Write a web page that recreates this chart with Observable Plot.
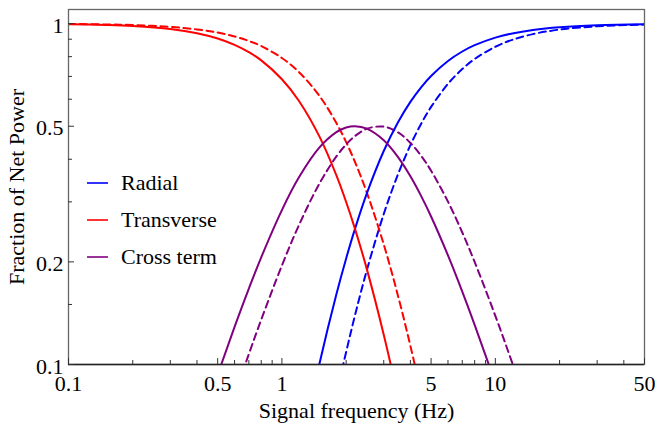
<!DOCTYPE html>
<html>
<head>
<meta charset="utf-8">
<script src="https://cdn.jsdelivr.net/npm/d3@7"></script>
<script src="https://cdn.jsdelivr.net/npm/@observablehq/plot@0.6"></script>
<style>
  html, body { margin: 0; padding: 0; background: white; }
  #wrap { position: relative; width: 658px; height: 428px; font-family: "Liberation Serif", serif; }
  .leg { position: absolute; left: 87px; font-size: 22px; display: flex; align-items: center; height: 24px; color: black; }
  .leg svg { margin-right: 13px; }
</style>
</head>
<body>
<div id="wrap"></div>
<script>
// Frequencies (Hz)
const freq = [0.1, 0.15, 0.2, 0.3, 0.4, 0.5, 0.6, 0.7, 0.8, 1, 1.2, 1.5, 1.8, 2, 2.2, 2.5, 3, 3.5, 4, 4.5, 5, 6, 7, 8, 10, 12, 15, 20, 30, 50];

// Solid curves
const radialSolid = [0.000004, 0.00002, 0.00007, 0.00033, 0.00102, 0.00241, 0.00479, 0.00845, 0.01364, 0.02932, 0.05258, 0.10071, 0.16079, 0.20475, 0.25, 0.31761, 0.42288, 0.51382, 0.58946, 0.65142, 0.70196, 0.77703, 0.82829, 0.86433, 0.90981, 0.93600, 0.95835, 0.97623, 0.98933, 0.99614];
const transSolid = [0.99588, 0.99077, 0.98367, 0.96382, 0.93702, 0.90418, 0.86633, 0.82458, 0.78006, 0.68685, 0.59398, 0.46601, 0.35881, 0.29977, 0.25, 0.19047, 0.12230, 0.08021, 0.05394, 0.03721, 0.02631, 0.01405, 0.00808, 0.00494, 0.00213, 0.00106, 0.00044, 0.00014, 0.00003, 0.000004];
const crossSolid = [0.00412, 0.00921, 0.01626, 0.03585, 0.06195, 0.09341, 0.12888, 0.16696, 0.20630, 0.28382, 0.35345, 0.43328, 0.48040, 0.49549, 0.5, 0.49192, 0.45483, 0.40602, 0.35663, 0.31139, 0.27180, 0.20893, 0.16363, 0.13073, 0.08807, 0.06292, 0.04123, 0.02363, 0.01064, 0.00386];

// Dashed curves
const radialDashed = [0.0000015, 0.0000076, 0.000024, 0.00012, 0.00037, 0.00089, 0.00180, 0.00324, 0.00533, 0.01202, 0.02268, 0.04705, 0.08131, 0.10888, 0.13942, 0.18910, 0.27628, 0.36156, 0.43991, 0.50941, 0.56969, 0.66571, 0.73582, 0.78742, 0.85540, 0.89605, 0.93154, 0.96061, 0.98219, 0.99353];
const transDashed = [0.99754, 0.99448, 0.99022, 0.97820, 0.96174, 0.94117, 0.91692, 0.88945, 0.85926, 0.79278, 0.72150, 0.61321, 0.51101, 0.44895, 0.39265, 0.31939, 0.22503, 0.15896, 0.11337, 0.08196, 0.06014, 0.03389, 0.02022, 0.01268, 0.00564, 0.00285, 0.00121, 0.00040, 0.00008, 0.00001];
const crossDashed = [0.00246, 0.00551, 0.00975, 0.02168, 0.03789, 0.05794, 0.08128, 0.10731, 0.13541, 0.19521, 0.25582, 0.33973, 0.40768, 0.44218, 0.46794, 0.49152, 0.49868, 0.47947, 0.44664, 0.40866, 0.37018, 0.30040, 0.24395, 0.19987, 0.13896, 0.10109, 0.06726, 0.03901, 0.01773, 0.00646];

const components = ["Radial", "Transverse", "Cross term"];
const colors = ["#0000ff", "#ff0000", "#800080"];

const xTicks = [0.1, 0.5, 1, 5, 10, 50];
const xMinor = [0.2, 0.3, 0.4, 0.6, 0.7, 0.8, 0.9, 2, 3, 4, 6, 7, 8, 9, 20, 30, 40];
const yTicks = [0.1, 0.2, 0.5, 1];
const yMinor = [0.15, 0.3, 0.4, 0.6, 0.7, 0.8, 0.9];
const xLabel = "Signal frequency (Hz)";
const yLabel = "Fraction of Net Power";

function rows(arrs) {
  const out = [];
  arrs.forEach((arr, k) => arr.forEach((v, i) => { if (v >= 0.02) out.push({f: freq[i], v, comp: components[k]}); }));
  return out;
}
const solidRows = rows([radialSolid, transSolid, crossSolid]);
const dashedRows = rows([radialDashed, transDashed, crossDashed]);

const W = 658, H = 428, mL = 68, mR = 14, mT = 9, mB = 64;
const innerW = W - mL - mR, innerH = H - mT - mB;

const chart = Plot.plot({
  width: W, height: H,
  marginLeft: mL, marginRight: mR, marginTop: mT, marginBottom: mB,
  style: {fontFamily: "Liberation Serif, serif", fontSize: "22px", background: "white", color: "black"},
  x: {type: "log", domain: [0.1, 50], axis: null},
  y: {type: "log", domain: [0.1, 1.1], axis: null},
  color: {domain: components, range: colors},
  marks: [
    Plot.line(dashedRows, {x: "f", y: "v", z: "comp", stroke: "comp", strokeWidth: 2, strokeDasharray: "7,4.5", curve: "catmull-rom", clip: true}),
    Plot.line(solidRows, {x: "f", y: "v", z: "comp", stroke: "comp", strokeWidth: 2, curve: "catmull-rom", clip: true}),
    Plot.frame({stroke: "#666", strokeWidth: 1.3}),
    Plot.ruleY([0.1], {stroke: "#222", strokeWidth: 1.3}),
    Plot.tickX(xTicks, {x: d => d, insetTop: innerH - 6, stroke: "#333"}),
    Plot.tickX(xMinor, {x: d => d, insetTop: innerH - 4, stroke: "#333"}),
    Plot.tickY(yTicks, {y: d => d, insetRight: innerW - 6, stroke: "#333"}),
    Plot.tickY(yMinor, {y: d => d, insetRight: innerW - 4, stroke: "#333"}),
    Plot.text(xTicks, {x: d => d, text: d => String(d), frameAnchor: "bottom", dy: 19, lineAnchor: "middle", textAnchor: "middle", fill: "black"}),
    Plot.text(yTicks, {y: d => d, text: d => String(d), frameAnchor: "left", textAnchor: "end", dx: -5, dy: 2, lineAnchor: "middle", fill: "black"}),
    Plot.text([xLabel], {text: d => d, frameAnchor: "bottom", dy: 46, lineAnchor: "middle", textAnchor: "middle", fill: "black"}),
    Plot.text([yLabel], {text: d => d, frameAnchor: "left", rotate: -90, dx: -52, lineAnchor: "middle", textAnchor: "middle", fill: "black"})
  ]
});

const wrap = document.getElementById("wrap");
wrap.appendChild(chart);

const legendY = [183, 220, 257];
components.forEach((c, i) => {
  const d = document.createElement("div");
  d.className = "leg";
  d.style.top = (legendY[i] - 12) + "px";
  d.innerHTML = `<svg width="21" height="6"><line x1="0" x2="21" y1="3" y2="3" stroke="${colors[i]}" stroke-width="1.6"/></svg><span>${c}</span>`;
  wrap.appendChild(d);
});
</script>
</body>
</html>
